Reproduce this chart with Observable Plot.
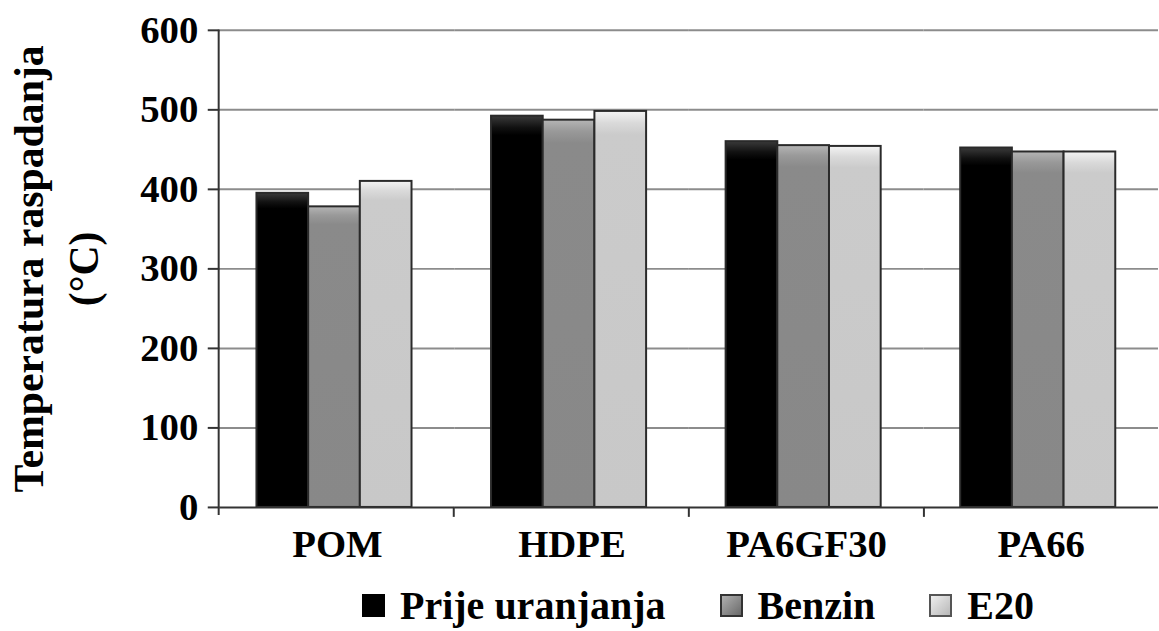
<!DOCTYPE html>
<html>
<head>
<meta charset="utf-8">
<script src="https://cdn.jsdelivr.net/npm/d3@7"></script>
<script src="https://cdn.jsdelivr.net/npm/@observablehq/plot@0.6"></script>
<style>
  html, body { margin: 0; padding: 0; background: #fff; overflow: hidden; }
  #wrap { position: relative; width: 1159px; height: 631px; overflow: hidden; background: #fff; }
  #chart { position: absolute; left: 0; top: 0; }
  #chart svg text, #chart svg g { font-family: "Liberation Serif", serif !important; font-weight: bold !important; }
  #legend { position: absolute; left: 362px; top: 580px; height: 51px; display: flex; align-items: center;
            font-family: "Liberation Serif", serif !important; font-weight: bold; font-size: 40px; color: #000; }
  .item { display: flex; align-items: center; margin-right: 54px; }
  .item:last-child { margin-right: 0; }
  .sw { width: 23px; height: 23px; box-sizing: border-box; margin-right: 15px; }
</style>
</head>
<body>
<svg width="0" height="0" style="position:absolute">
  <defs>
    <linearGradient id="g0" x1="0" y1="0" x2="0" y2="1">
      <stop offset="0" stop-color="#3a3a3a"/><stop offset="0.03" stop-color="#111"/><stop offset="0.05" stop-color="#000"/><stop offset="1" stop-color="#000"/>
    </linearGradient>
    <linearGradient id="g1" x1="0" y1="0" x2="0" y2="1">
      <stop offset="0" stop-color="#b5b5b5"/><stop offset="0.03" stop-color="#999"/><stop offset="0.06" stop-color="#8a8a8a"/><stop offset="1" stop-color="#888"/>
    </linearGradient>
    <linearGradient id="g2" x1="0" y1="0" x2="0" y2="1">
      <stop offset="0" stop-color="#f4f4f4"/><stop offset="0.03" stop-color="#dadada"/><stop offset="0.06" stop-color="#cbcbcb"/><stop offset="1" stop-color="#c8c8c8"/>
    </linearGradient>
  </defs>
</svg>
<div id="wrap">
  <div id="chart"></div>
  <div id="legend"></div>
</div>
<script>
// ---- data ----
const materials = ["POM", "HDPE", "PA6GF30", "PA66"];
const series = ["Prije uranjanja", "Benzin", "E20"];
const prije = [395, 492, 460, 452];
const benzin = [378, 487, 455, 447];
const e20 = [410, 498, 454, 447];
const yTicks = [0, 100, 200, 300, 400, 500, 600];
const yLabel = "Temperatura raspadanja\n(°C)";

const seriesValues = [prije, benzin, e20];
const data = materials.flatMap((m, i) => series.map((s, j) => ({material: m, series: s, value: seriesValues[j][i]})));

const swatchFill = ["#000", "linear-gradient(135deg,#b0b0b0,#6a6a6a)", "linear-gradient(135deg,#eeeeee,#b8b8b8)"];
const swatchBorder = ["#000", "#333", "#555"];

const chart = Plot.plot({
  width: 1166,
  height: 580,
  marginLeft: 220,
  marginRight: 0,
  marginTop: 30,
  marginBottom: 70,
  style: {fontFamily: "'Liberation Serif', serif", fontSize: "39px", fontWeight: "bold", color: "#000", background: "#fff", overflow: "visible"},
  fx: {domain: materials, padding: 0, label: null, tickSize: 0, tickPadding: 22},
  x: {domain: series, axis: null, paddingInner: 0, paddingOuter: 0.73, align: 0.46},
  y: {domain: [0, 600], ticks: yTicks, tickSize: 12, tickPadding: 10, label: null},
  color: {domain: series, range: ["url(#g0)", "url(#g1)", "url(#g2)"]},
  marks: [
    Plot.ruleY(yTicks.filter(d => d > 0), {stroke: "#8c8c8c", strokeWidth: 2}),
    Plot.barY(data, {fx: "material", x: "series", y: "value", fill: "series", stroke: "#2a2a2a", strokeWidth: 2}),
    Plot.ruleY([0], {stroke: "#333", strokeWidth: 2}),
    Plot.text([yLabel], {fx: () => materials[0], frameAnchor: "left", rotate: -90, dx: -168, lineHeight: 1.3, fontSize: 42, textAnchor: "middle", lineAnchor: "middle"})
  ]
});
document.getElementById("chart").appendChild(chart);

// axis line + band separators from the library's scales
const fxS = chart.scale("fx"), yS = chart.scale("y");
const band = d3.scaleBand().domain(fxS.domain).range(fxS.range).paddingInner(0).paddingOuter(0);
const yLin = d3.scaleLinear().domain(yS.domain).range(yS.range);
const g = d3.select(chart).append("g").attr("stroke", "#333").attr("stroke-width", 2);
const x0 = band(materials[0]);
g.append("line").attr("x1", x0).attr("x2", x0).attr("y1", yLin(600)).attr("y2", yLin(0) + 8);
materials.slice(1).forEach(m => {
  const xe = band(m);
  g.append("line").attr("x1", xe).attr("x2", xe).attr("y1", yLin(0)).attr("y2", yLin(0) + 10);
});
d3.select(chart).selectAll('g[aria-label^="y-axis"]').selectAll("line, path").attr("stroke-width", 2).attr("stroke", "#333");
d3.select(chart).selectAll("text").attr("font-family", "Liberation Serif").attr("font-weight", "bold");

// legend
const legend = d3.select("#legend");
series.forEach((s, j) => {
  const it = legend.append("div").attr("class", "item");
  it.append("span").attr("class", "sw").style("background", swatchFill[j]).style("border", `2px solid ${swatchBorder[j]}`);
  it.append("span").text(s);
});
</script>
</body>
</html>
